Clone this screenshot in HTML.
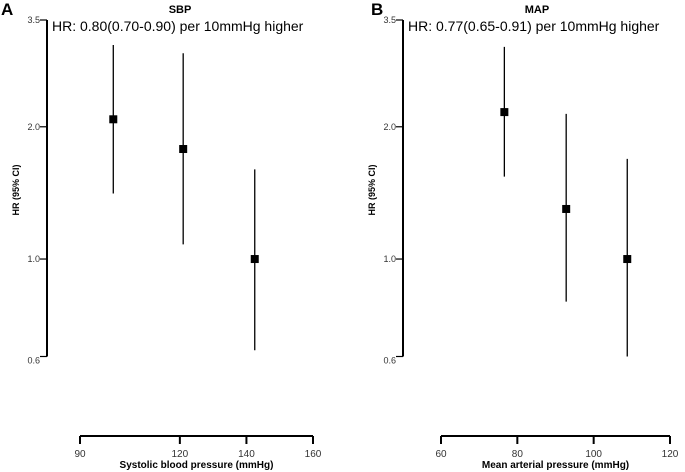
<!DOCTYPE html>
<html><head><meta charset="utf-8"><style>
html,body{margin:0;padding:0;background:#fff;}
svg{display:block;font-family:"Liberation Sans",Arial,sans-serif;}
</style></head><body>
<svg id="c" width="685" height="472"></svg>
<script>
const sbpX = [100, 121, 142.5];
const sbpHR = [2.08, 1.78, 1.0];
const sbpLo = [1.41, 1.08, 0.62];
const sbpHi = [3.07, 2.94, 1.60];
const sbpTicks = [90, 120, 140, 160];
const mapX = [76.6, 92.8, 108.8];
const mapHR = [2.16, 1.30, 1.0];
const mapLo = [1.54, 0.80, 0.60];
const mapHi = [3.04, 2.14, 1.69];
const mapTicks = [60, 80, 100, 120];
const yTicks = [3.5, 2.0, 1.0, 0.6];
const yTickLabels = ["3.5", "2.0", "1.0", "0.6"];

const NS = "http://www.w3.org/2000/svg";
const svg = document.getElementById("c");
function mk(tag, attrs, parent, text){
  const e = document.createElementNS(NS, tag);
  for (const k in attrs) e.setAttribute(k, attrs[k]);
  if (text !== undefined) e.textContent = text;
  (parent || svg).appendChild(e);
  return e;
}
const yTop = 20, yBot = 356.5;
function yScale(v){
  const a = Math.log(3.5), b = Math.log(0.6);
  return yTop + (a - Math.log(v)) / (a - b) * (yBot - yTop);
}
function panel(cfg){
  const g = mk("g", {});
  
  
  const xs = v => cfg.x0 + (v - cfg.t[0]) / (cfg.t[cfg.t.length-1] - cfg.t[0]) * (cfg.x1 - cfg.x0);
  // panel letter
  const L = mk("text", {x: cfg.lx, y: 15, "font-size": 17, "font-weight": "bold"}, g, cfg.letter);
  
  
  const T = mk("text", {x: cfg.tx, y: 13, "font-size": 11, "font-weight": "bold", "text-anchor": "middle"}, g, cfg.title);
  
  
  const S = mk("text", {x: cfg.ax + 5, y: 31, "font-size": 14}, g, cfg.sub);
  
  
  // y axis
  const ya = mk("line", {x1: cfg.ax, x2: cfg.ax, y1: yTop, y2: yBot, stroke: "#000", "stroke-width": 2}, g);
  
  
  yTicks.forEach((v, i) => {
    const y = yScale(v);
    const tl = mk("line", {x1: cfg.ax - 7, x2: cfg.ax, y1: y, y2: y, stroke: "#000", "stroke-width": 1.2}, g);
    
    
    const tt = mk("text", {x: cfg.ax - 7, y: y + (i === 3 ? 7 : 3), "font-size": 9, fill: "#333", "text-anchor": "end"}, g, yTickLabels[i]);
    
    
  });
  const yt = mk("text", {transform: `translate(${cfg.ax - 28},190) rotate(-90)`, "font-size": 9, "font-weight": "bold", "text-anchor": "middle"}, g, "HR (95% CI)");
  
  
  // x axis
  const xa = mk("line", {x1: cfg.x0, x2: cfg.x1, y1: 436, y2: 436, stroke: "#000", "stroke-width": 2}, g);
  
  
  cfg.t.forEach(v => {
    const x = xs(v);
    const tl = mk("line", {x1: x, x2: x, y1: 436, y2: 444, stroke: "#000", "stroke-width": 2}, g);
    
    
    const tt = mk("text", {x: x, y: 457, "font-size": 10, fill: "#333", "text-anchor": "middle"}, g, String(v));
    
    
  });
  const xt = mk("text", {x: (cfg.x0 + cfg.x1) / 2, y: 468, "font-size": 10, "font-weight": "bold", "text-anchor": "middle"}, g, cfg.xtitle);
  
  
  cfg.xv.forEach((v, i) => {
    const x = xs(v);
    const ci = mk("line", {x1: x, x2: x, y1: yScale(cfg.hi[i]), y2: yScale(cfg.lo[i]), stroke: "#000", "stroke-width": 1.3}, g);
    
    
    const y = yScale(cfg.hr[i]);
    const pt = mk("rect", {x: x - 4, y: y - 4, width: 8, height: 8, fill: "#000"}, g);
    
    
  });
}
panel({name: "panel-sbp", letter: "A", lx: 1, title: "SBP", tx: 180, ax: 47,
  sub: "HR: 0.80(0.70-0.90) per 10mmHg higher", x0: 80, x1: 313, t: sbpTicks,
  xv: sbpX, hr: sbpHR, lo: sbpLo, hi: sbpHi, xtitle: "Systolic blood pressure (mmHg)"});
panel({name: "panel-map", letter: "B", lx: 371, title: "MAP", tx: 537, ax: 403,
  sub: "HR: 0.77(0.65-0.91) per 10mmHg higher", x0: 441, x1: 670, t: mapTicks,
  xv: mapX, hr: mapHR, lo: mapLo, hi: mapHi, xtitle: "Mean arterial pressure (mmHg)"});
</script>
</body></html>
